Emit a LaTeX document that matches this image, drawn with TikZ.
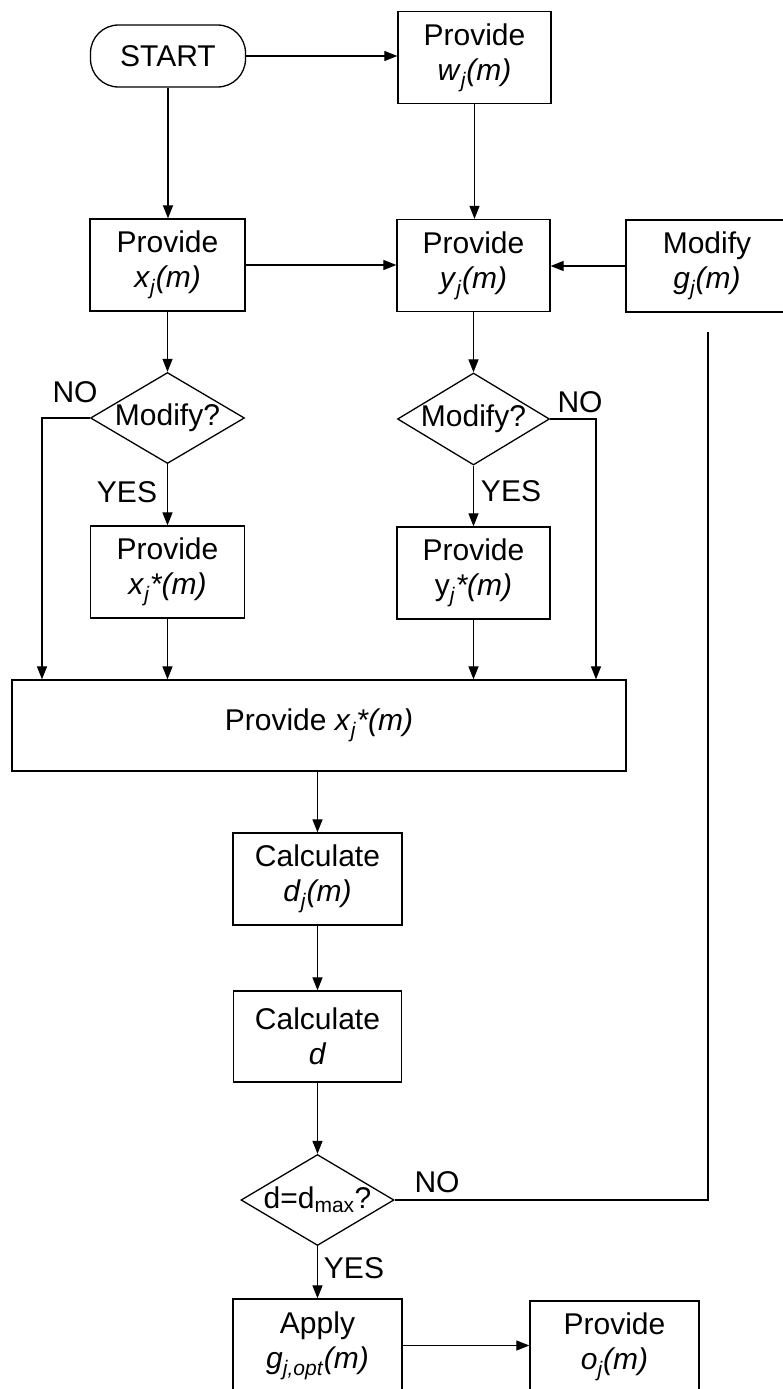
\documentclass[tikz,border=0pt]{standalone}
\usepackage{fontspec}
\setmainfont{Liberation Sans}
\usetikzlibrary{arrows.meta,shapes.geometric}
\begin{document}
\begin{tikzpicture}[x=1pt,y=-1pt,
  every node/.style={font=\fontsize{30}{35}\selectfont},
  box/.style={draw, line width=1.3pt, minimum width=155pt, minimum height=92pt, inner sep=0pt, align=center},
  term/.style={draw, line width=1.3pt, rounded corners=28pt, minimum width=155pt, minimum height=62pt, inner sep=0pt},
  dia/.style={draw, diamond, line width=1.3pt, minimum width=154pt, minimum height=91pt, inner sep=0pt},
  lbl/.style={inner sep=0pt},
  conn/.style={line width=1.2pt},
  arr/.style={conn, -{Triangle[length=13pt,width=10pt]}}]
\useasboundingbox (0,0) rectangle (783,1389);
\clip (0,0) rectangle (783,1389);
% nodes
\node[term] (start) at (168,56) {START};
\node[box, minimum width=153pt] (wj) at (474.5,57.5) {Provide\\\textit{w}\textsubscript{\textit{j}}\textit{(m)}};
\node[box] (xj) at (167.5,265) {Provide\\\textit{x}\textsubscript{\textit{j}}\textit{(m)}};
\node[box, minimum width=153pt] (yj) at (473.5,265.5) {Provide\\\textit{y}\textsubscript{\textit{j}}\textit{(m)}};
\node[box, minimum width=162pt] (gj) at (707,266) {Modify\\\textit{g}\textsubscript{\textit{j}}\textit{(m)}};
\node[dia] (d1) at (167.5,418) {};
\node[lbl] (d1t) at (d1) {Modify?};
\node[dia, minimum width=152pt, minimum height=92pt] (d2) at (473.5,419) {};
\node[lbl] (d2t) at (d2) {Modify?};
\node[box, minimum width=154pt] (xs) at (167.5,572) {Provide\\\textit{x}\textsubscript{\textit{j}}\textit{*(m)}};
\node[box, minimum width=153pt] (ys) at (473.5,573) {Provide\\y\textsubscript{\textit{j}}\textit{*(m)}};
\node[box, minimum width=614pt, minimum height=91pt] (big) at (319,725.5) {Provide \textit{x}\textsubscript{\textit{j}}\textit{*(m)}};
\node[box, minimum width=169pt] (cd) at (317.5,879) {Calculate\\\textit{d}\textsubscript{\textit{j}}\textit{(m)}};
\node[box, minimum width=168pt, minimum height=91pt] (cdd) at (317.5,1036.5) {Calculate\\\textit{d}};
\node[dia, minimum width=153pt] (d3) at (317.5,1200) {};
\node[lbl] (d3t) at (d3) {d=d\textsubscript{max}?};
\node[box, minimum width=169pt, minimum height=93pt] (ap) at (317.5,1345.5) {Apply\\\textit{g}\textsubscript{\textit{j,opt}}\textit{(m)}};
\node[box, minimum width=169pt, minimum height=92pt] (oj) at (614.5,1347) {Provide\\\textit{o}\textsubscript{\textit{j}}\textit{(m)}};
% labels
\node[lbl] (no1) at (75,392) {NO};
\node[lbl] (no2) at (580,402) {NO};
\node[lbl] (yes1) at (127,492) {YES};
\node[lbl] (yes2) at (511,491) {YES};
\node[lbl] (no3) at (437,1182) {NO};
\node[lbl] (yes3) at (354,1268) {YES};
% coordinates
\coordinate (nl) at (42,418);
\coordinate (nr) at (596,419);
\coordinate (fb) at (708,332);
% connectors
\draw[arr] (start.east) -- (start.east -| wj.west);
\draw[arr] (start.south) -- (start.south |- xj.north);
\draw[arr] (wj.south) -- (wj.south |- yj.north);
\draw[arr] (xj.east) -- (xj.east -| yj.west);
\draw[arr] (gj.west) -- (gj.west -| yj.east);
\draw[arr] (xj.south) -- (d1.north);
\draw[arr] (yj.south) -- (d2.north);
\draw[arr] (d1.west) -- (nl) -- (nl |- big.north);
\draw[arr] (d2.east) -- (nr) -- (nr |- big.north);
\draw[arr] (d1.south) -- (xs.north);
\draw[arr] (d2.south) -- (ys.north);
\draw[arr] (xs.south) -- (xs.south |- big.north);
\draw[arr] (ys.south) -- (ys.south |- big.north);
\draw[arr] (big.south -| cd.north) -- (cd.north);
\draw[arr] (cd.south) -- (cdd.north);
\draw[arr] (cdd.south) -- (d3.north);
\draw[conn] (d3.east) -| (fb);
\draw[arr] (d3.south) -- (ap.north);
\draw[arr] (ap.east) -- (ap.east -| oj.west);
\end{tikzpicture}
\end{document}
